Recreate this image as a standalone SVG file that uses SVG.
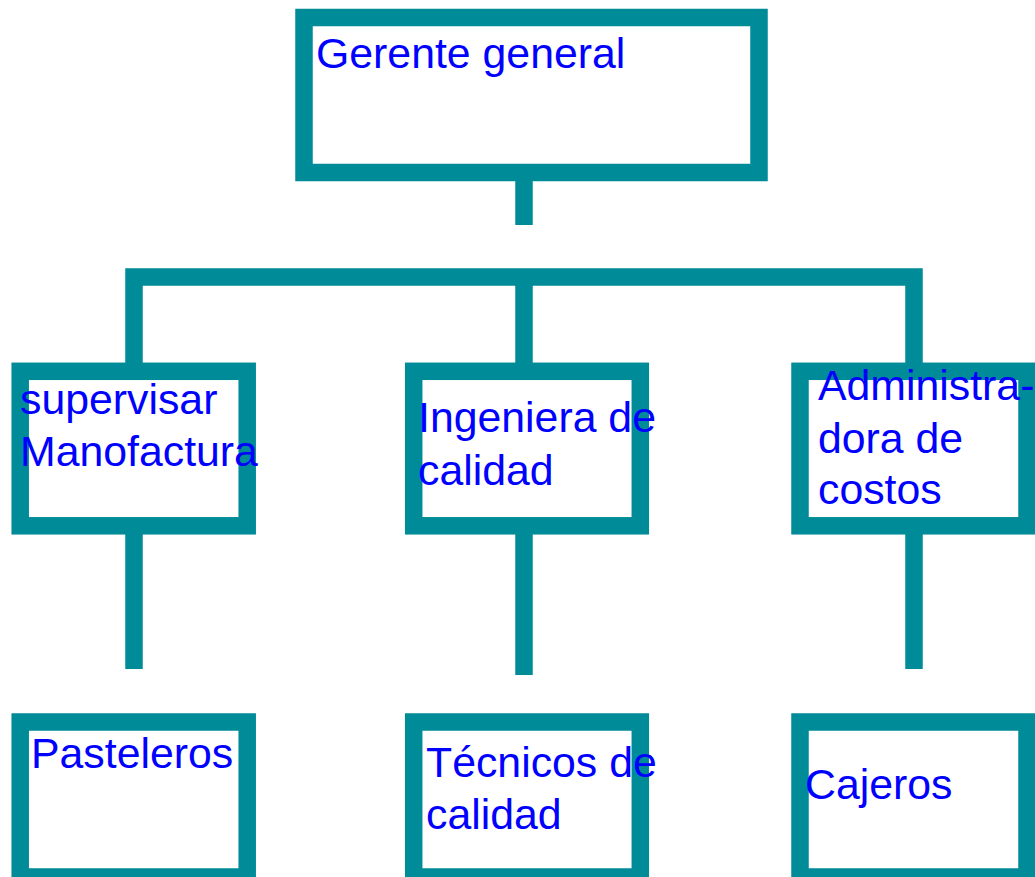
<svg xmlns="http://www.w3.org/2000/svg" width="1035" height="877" viewBox="0 0 1035 877">
<style>
.box{fill:#FFFFFF;stroke:#008B99;stroke-width:17.5}
.conn{fill:none;stroke:#008B99;stroke-width:17.5;stroke-linecap:butt;stroke-linejoin:miter}
.lbl{font-family:"Liberation Sans",Arial,sans-serif;font-size:42.8px;fill:#0000FF}
</style>
<rect width="1035" height="877" fill="#FFFFFF"/>
<g id="connectors">
<path class="conn" d="M524,181 V225"/>
<path class="conn" d="M134,363 V277 H914 V363"/>
<path class="conn" d="M524,277 V363"/>
<path class="conn" d="M134,534 V669"/>
<path class="conn" d="M524,534 V675"/>
<path class="conn" d="M914,534 V669"/>
</g>
<g id="gerente">
<rect class="box" x="304" y="17.5" width="455" height="155"/>
<text class="lbl" x="316" y="68">Gerente general</text>
</g>
<g id="supervisar">
<rect class="box" x="20.2" y="371.3" width="227" height="154.5"/>
<text class="lbl" x="20" y="414">supervisar</text>
<text class="lbl" x="20" y="466">Manofactura</text>
</g>
<g id="ingeniera">
<rect class="box" x="413.7" y="371.3" width="226.6" height="154.5"/>
<text class="lbl" x="418" y="432">Ingeniera de</text>
<text class="lbl" x="418" y="485">calidad</text>
</g>
<g id="administradora">
<rect class="box" x="800" y="371.3" width="227" height="154.5"/>
<text class="lbl" x="818" y="400">Administra-</text>
<text class="lbl" x="818" y="452.5">dora de</text>
<text class="lbl" x="818" y="504">costos</text>
</g>
<g id="pasteleros">
<rect class="box" x="20.2" y="722" width="227" height="155"/>
<text class="lbl" x="31" y="768">Pasteleros</text>
</g>
<g id="tecnicos">
<rect class="box" x="413.7" y="722" width="226.6" height="155"/>
<text class="lbl" x="426" y="777">Técnicos de</text>
<text class="lbl" x="426" y="829">calidad</text>
</g>
<g id="cajeros">
<rect class="box" x="800" y="722" width="227" height="155"/>
<text class="lbl" x="805" y="799">Cajeros</text>
</g>
</svg>
